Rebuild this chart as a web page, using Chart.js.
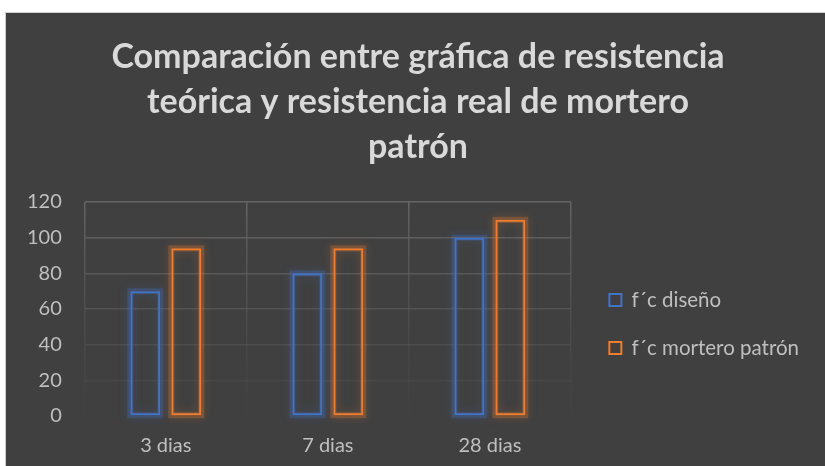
<!DOCTYPE html>
<html><head><meta charset="utf-8">
<script src="https://cdn.jsdelivr.net/npm/chart.js@4"></script>
<style>
html,body{margin:0;padding:0;background:#fff;width:825px;height:466px;overflow:hidden}
#wrap{position:absolute;left:5px;top:12px;width:820px;height:454px;background:#404040;border-left:1px solid #d0d0d0;border-top:1px solid #d0d0d0;box-sizing:border-box}
canvas{display:block}
</style></head><body>
<div id="wrap"><canvas id="c" width="819" height="453"></canvas></div>
<script>
const categories = ["3 dias", "7 dias", "28 dias"];
const disenoValues = [70, 80, 100];
const morteroValues = [94, 94, 110];
const seriesNames = ["f´c diseño", "f´c mortero patrón"];
const titleLines = ["Comparación entre gráfica de resistencia", "teórica y resistencia real de mortero", "patrón"];

const BLUE = "#4472c4", ORANGE = "#ed7d31";
const GLOW_STROKE = ["rgba(68,114,196,0.28)", "rgba(237,125,49,0.28)"];
const GLOW_SHADOW = ["rgba(68,114,196,0.7)", "rgba(237,125,49,0.7)"];

const glow = {
  id: "glow",
  beforeDatasetDraw(chart, args) {
    const ctx = chart.ctx;
    const meta = chart.getDatasetMeta(args.index);
    ctx.save();
    ctx.strokeStyle = GLOW_STROKE[args.index];
    ctx.shadowColor = GLOW_SHADOW[args.index];
    ctx.shadowBlur = 10;
    ctx.lineWidth = 6;
    meta.data.forEach((el) => {
      const p = el.getProps(["x", "y", "base", "width"], true);
      ctx.strokeRect(p.x - p.width / 2, Math.min(p.y, p.base), p.width, Math.abs(p.base - p.y));
    });
    ctx.restore();
  }
};

function vGrad(ctx, area, top, bottom) {
  const g = ctx.createLinearGradient(0, area.top, 0, area.bottom);
  g.addColorStop(0, top);
  g.addColorStop(1, bottom);
  return g;
}

new Chart(document.getElementById("c"), {
  type: "bar",
  data: {
    labels: categories,
    datasets: [
      { label: seriesNames[0], data: disenoValues, backgroundColor: "rgba(0,0,0,0)", borderColor: BLUE, borderWidth: 2, borderSkipped: false },
      { label: seriesNames[1], data: morteroValues, backgroundColor: "rgba(0,0,0,0)", borderColor: ORANGE, borderWidth: 2, borderSkipped: false }
    ]
  },
  plugins: [glow],
  options: {
    responsive: false,
    animation: false,
    devicePixelRatio: 1,
    datasets: { bar: { categoryPercentage: 0.506, barPercentage: 0.73 } },
    layout: { padding: { left: 21, right: 16, top: 0, bottom: 8 } },
    plugins: {
      title: {
        display: true,
        text: titleLines,
        color: "#d9d9d9",
        font: { family: "Lato", size: 34, weight: "bold", lineHeight: 45 / 34 },
        padding: { top: 21.5, bottom: 32.5 }
      },
      legend: {
        position: "right",
        fullSize: false,
        maxWidth: 320,
        title: { display: true, text: " ", font: { size: 10 }, padding: { top: 18, bottom: 0 } },
        labels: {
          color: "#bfbfbf",
          font: { family: "Lato", size: 20.5 },
          boxWidth: 12, boxHeight: 12,
          padding: 27.5,
          generateLabels(chart) {
            return chart.data.datasets.map((d, i) => ({
              text: d.label, fillStyle: "rgba(0,0,0,0)", strokeStyle: d.borderColor,
              lineWidth: 2, fontColor: "#bfbfbf", datasetIndex: i, hidden: false
            }));
          }
        }
      },
      tooltip: { enabled: false }
    },
    scales: {
      x: {
        ticks: { color: "#bfbfbf", font: { family: "Lato", size: 20 }, padding: 18 },
        grid: {
          drawTicks: false,
          lineWidth: 1.5,
          color: (c) => { const ch = c.chart; return ch.chartArea ? vGrad(ch.ctx, ch.chartArea, "rgba(100,100,100,1)", "rgba(70,70,70,0.3)") : "#5a5a5a"; }
        },
        border: { display: false },
        afterFit: (s) => { s.height -= s.options.ticks.padding; }
      },
      y: {
        min: 0, max: 120,
        ticks: { stepSize: 20, color: "#bfbfbf", font: { family: "Lato", size: 20 }, padding: 23 },
        grid: {
          drawTicks: false,
          lineWidth: 1.5,
          color: (c) => { const v = c.tick ? c.tick.value : 0; const a = 0.05 + 0.95 * v / 120; return `rgba(100,100,100,${a})`; }
        },
        border: { display: false },
        afterFit: (s) => { s.width -= s.options.ticks.padding; }
      },
      gap: {
        type: "linear",
        position: "right",
        display: true,
        grid: { display: false, drawTicks: false },
        ticks: { display: false },
        border: { display: false },
        afterFit: (s) => { s.width = 11; }
      }
    }
  }
});
</script>
</body></html>
